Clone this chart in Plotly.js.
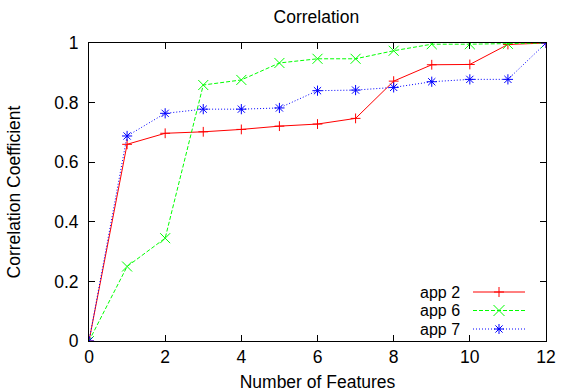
<!DOCTYPE html>
<html>
<head>
<meta charset="utf-8">
<script src="https://cdn.plot.ly/plotly-3.0.1.min.js"></script>
<style>html,body{margin:0;padding:0;background:#fff;} #chart{width:568px;height:392px;}</style>
</head>
<body>
<div id="chart"></div>
<script>
const features = [0,1,2,3,4,5,6,7,8,9,10,11,12];
const app2 = [0,0.66,0.697,0.702,0.71,0.721,0.728,0.747,0.872,0.927,0.928,0.995,1.0];
const app6 = [0,0.25,0.345,0.859,0.876,0.933,0.947,0.947,0.974,0.996,0.996,0.997,1.0];
const app7 = [0,0.688,0.764,0.778,0.778,0.782,0.840,0.842,0.851,0.870,0.878,0.878,1.0];
const seriesNames = ["app 2","app 6","app 7"];
const xTicks = [0,2,4,6,8,10,12];
const yTicks = [0,0.2,0.4,0.6,0.8,1];
const yTickText = ["0","0.2","0.4","0.6","0.8","1"];

const FONT = "Liberation Sans, Arial, sans-serif";
const FS = 17.5;
const colors = ["#ff0000","#00ff00","#0000ff"];
const dashes = ["solid","4px,2px","1px,2px"];
const symbols = ["cross-thin-open","x-thin-open","asterisk-open"];
const msizes = [7, 10, 8.5];
const ys = [app2, app6, app7];

const traces = [];
for (let i = 0; i < 3; i++) {
  traces.push({x: features, y: ys[i], name: seriesNames[i], mode: "lines+markers", showlegend: false,
    line: {color: colors[i], width: 1, dash: dashes[i]},
    marker: {symbol: symbols[i], size: msizes[i], color: colors[i], line: {color: colors[i], width: 1}}});
}

const axisCommon = {
  showline: true, linecolor: "#000", linewidth: 1, mirror: "allticks",
  ticks: "inside", ticklen: 6, tickcolor: "#000", tickwidth: 1,
  showgrid: false, zeroline: false,
  tickfont: {family: FONT, size: FS, color: "#000"}
};

// custom key (gnuplot style: text on the left, sample on the right), geometry in page pixels
const PL = 89, PR = 546, PT = 43, PB = 341;
const fx = px => (px - PL) / (PR - PL);
const fy = py => (PB - py) / (PB - PT);
const keyRows = [292, 310.5, 329];
const keyLine = [473, 525], keyMark = 499, keyText = 462;

function markPath(kind, cx, cy, h) {
  const p = (x, y) => fx(x) + "," + fy(y);
  const plus = "M" + p(cx - h, cy) + "L" + p(cx + h, cy) + "M" + p(cx, cy - h) + "L" + p(cx, cy + h);
  const ex = "M" + p(cx - h, cy - h) + "L" + p(cx + h, cy + h) + "M" + p(cx - h, cy + h) + "L" + p(cx + h, cy - h);
  if (kind === 0) return plus;
  if (kind === 1) return ex;
  const d = h * 0.72;
  return "M" + p(cx - h, cy) + "L" + p(cx + h, cy) + "M" + p(cx, cy - h) + "L" + p(cx, cy + h) +
         "M" + p(cx - d, cy - d) + "L" + p(cx + d, cy + d) + "M" + p(cx - d, cy + d) + "L" + p(cx + d, cy - d);
}

const shapes = [];
keyRows.forEach((r, i) => {
  shapes.push({type: "line", xref: "paper", yref: "paper", x0: fx(keyLine[0]), x1: fx(keyLine[1]), y0: fy(r), y1: fy(r),
    line: {color: colors[i], width: 1, dash: dashes[i]}});
  shapes.push({type: "path", xref: "paper", yref: "paper", path: markPath(i, keyMark, r, [5, 5.5, 5][i]),
    line: {color: colors[i], width: 1}});
});

const layout = {
  width: 568, height: 392,
  margin: {l: PL, r: 568 - PR, t: PT, b: 392 - PB},
  paper_bgcolor: "#fff", plot_bgcolor: "#fff",
  title: {text: "Correlation", font: {family: FONT, size: FS, color: "#000"}, x: 0.557, xanchor: "center", y: 0.957, yanchor: "middle"},
  xaxis: Object.assign({}, axisCommon, {
    range: [0, 12], tickvals: xTicks, ticktext: xTicks.map(String),
    title: {text: "Number of Features", font: {family: FONT, size: FS, color: "#000"}, standoff: 11}
  }),
  yaxis: Object.assign({}, axisCommon, {
    range: [0, 1], tickvals: yTicks, ticktext: yTickText, ticklabelstandoff: 6,
    title: {text: "Correlation Coefficient", font: {family: FONT, size: FS, color: "#000"}, standoff: 29}
  }),
  showlegend: false,
  shapes: shapes,
  annotations: seriesNames.map((n, i) => ({
    xref: "paper", yref: "paper", x: fx(keyText), y: fy(keyRows[i]),
    xanchor: "right", yanchor: "middle", showarrow: false,
    text: n, font: {family: FONT, size: 16, color: "#000"}
  }))
};

Plotly.newPlot("chart", traces, layout, {displayModeBar: false, staticPlot: true});
</script>
</body>
</html>
